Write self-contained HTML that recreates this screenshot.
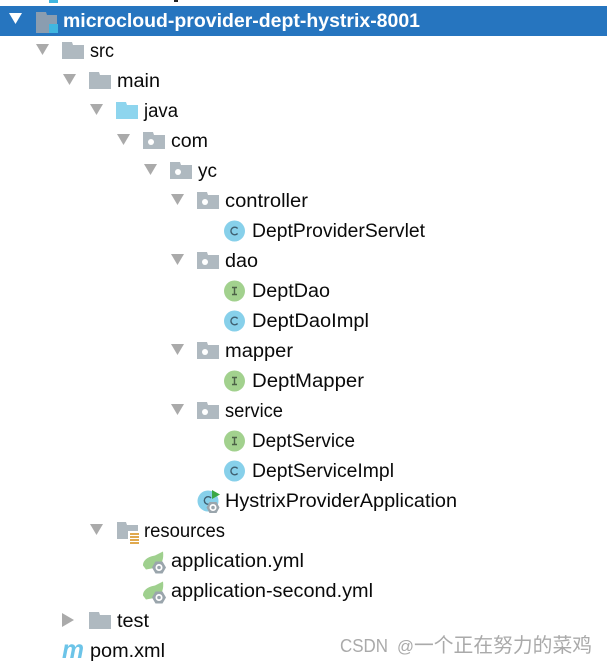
<!DOCTYPE html>
<html><head><meta charset="utf-8"><style>
html,body{margin:0;padding:0;background:#fff;width:607px;height:665px;overflow:hidden}
svg{display:block}
text{font-family:"Liberation Sans","Noto Sans CJK SC",sans-serif;font-size:19px;fill:#0a0a0a}
</style></head><body>
<svg width="607" height="665" viewBox="0 0 607 665" xmlns="http://www.w3.org/2000/svg">
<defs>
<path id="t" d="M0 0H13L6.500 11Z" fill="#aaaaaa"/>
<path id="f" d="M0 0H10L11 3H22V17H0Z" fill="#afb9c0"/>
<g id="p"><path d="M0 0H10L11 3H22V17H0Z" fill="#afb9c0"/><circle cx="8" cy="10" r="3" fill="#fff"/></g>
<g id="C"><circle cx="10.500" cy="10.500" r="10.500" fill="#87d0ea"/><path d="M13.600 8A3.800 3.800 0 1 0 13.600 13" fill="none" stroke="#3f5f70" stroke-width="1.400"/></g>
<g id="I"><circle cx="10.500" cy="10.500" r="10.500" fill="#a2d18e"/><path d="M8 7H13M10.500 7V14M8 14H13" fill="none" stroke="#4c6147" stroke-width="1.400"/></g>
<g id="s"><path d="M0 14C0 8 6 5 12 4L20 0C21 7 19 13 14 16L3 18Z" fill="#9fd08e"/><path d="M12.500 10H19.500L23 16L19.500 22H12.500L9 16Z" fill="#9aa5ac"/><circle cx="16" cy="16" r="3.500" fill="#fff"/><circle cx="16" cy="16" r="1.800" fill="#9aa5ac"/></g>
</defs>

<rect x="49" y="0" width="9" height="3" fill="#40b6e0"/>
<rect x="174" y="0" width="4" height="2" fill="#222"/>

<rect x="0" y="6" width="607" height="30" fill="#2675bf"/>
<path d="M9 13H22L15.500 24Z" fill="#fff"/>
<path d="M36 12H46L47 15H57V33H36Z" fill="#8a9db0"/>
<rect x="49" y="24" width="9" height="9" fill="#40b6e0"/>
<text x="63" y="27" textLength="357" lengthAdjust="spacingAndGlyphs" style="font-weight:bold;fill:#fff">microcloud-provider-dept-hystrix-8001</text>

<use href="#t" x="36" y="44"/>
<use href="#t" x="63" y="74"/>
<use href="#t" x="90" y="104"/>
<use href="#t" x="117" y="134"/>
<use href="#t" x="144" y="164"/>
<use href="#t" x="171" y="194"/>
<use href="#t" x="171" y="254"/>
<use href="#t" x="171" y="344"/>
<use href="#t" x="171" y="404"/>
<use href="#t" x="90" y="524"/>
<path d="M62 613L74 620L62 627Z" fill="#aaaaaa"/>

<use href="#f" x="62" y="42"/>
<use href="#f" x="89" y="72"/>
<path d="M116 102H126L127 105H138V119H116Z" fill="#8ed5ee"/>
<use href="#p" x="143" y="132"/>
<use href="#p" x="170" y="162"/>
<use href="#p" x="197" y="192"/>
<use href="#p" x="197" y="252"/>
<use href="#p" x="197" y="342"/>
<use href="#p" x="197" y="402"/>
<path d="M117 522H126L127 525H138V539H117Z" fill="#afb9c0"/>
<rect x="128" y="531" width="12" height="14" fill="#fff"/>
<g fill="#e0a94e"><rect x="130" y="533" width="9" height="2"/><rect x="130" y="536" width="9" height="2"/><rect x="130" y="539" width="9" height="2"/><rect x="130" y="542" width="9" height="2"/></g>
<use href="#f" x="89" y="612"/>

<use href="#C" x="224" y="220.500"/>
<use href="#I" x="224" y="280.500"/>
<use href="#C" x="224" y="310.500"/>
<use href="#I" x="224" y="370.500"/>
<use href="#I" x="224" y="430.500"/>
<use href="#C" x="224" y="460.500"/>

<circle cx="208" cy="501" r="10.500" fill="#87d0ea"/>
<path d="M211 498A3.800 3.800 0 1 0 211 503" fill="none" stroke="#3f5f70" stroke-width="1.400"/>
<path d="M212 490L220 494.500L212 499Z" fill="#3aa845"/>
<path d="M209.500 502H216.500L219.500 507.500L216.500 513H209.500L206.500 507.500Z" fill="#9aa5ac"/>
<circle cx="213" cy="507.500" r="3.500" fill="#fff"/><circle cx="213" cy="507.500" r="1.800" fill="#9aa5ac"/>

<use href="#s" x="143" y="551.500"/>
<use href="#s" x="143" y="581.500"/>

<text x="62" y="658" textLength="22" lengthAdjust="spacingAndGlyphs" style="font-size:26px;font-weight:bold;font-style:italic;fill:#6cc4e8">m</text>

<text x="90" y="57" textLength="24" lengthAdjust="spacingAndGlyphs">src</text>
<text x="117" y="87" textLength="43" lengthAdjust="spacingAndGlyphs">main</text>
<text x="144" y="117" textLength="34" lengthAdjust="spacingAndGlyphs">java</text>
<text x="171" y="147" textLength="37" lengthAdjust="spacingAndGlyphs">com</text>
<text x="198" y="177" textLength="19" lengthAdjust="spacingAndGlyphs">yc</text>
<text x="225" y="207" textLength="83" lengthAdjust="spacingAndGlyphs">controller</text>
<text x="252" y="237" textLength="173" lengthAdjust="spacingAndGlyphs">DeptProviderServlet</text>
<text x="225" y="267" textLength="33" lengthAdjust="spacingAndGlyphs">dao</text>
<text x="252" y="297" textLength="78" lengthAdjust="spacingAndGlyphs">DeptDao</text>
<text x="252" y="327" textLength="117" lengthAdjust="spacingAndGlyphs">DeptDaoImpl</text>
<text x="225" y="357" textLength="68" lengthAdjust="spacingAndGlyphs">mapper</text>
<text x="252" y="387" textLength="112" lengthAdjust="spacingAndGlyphs">DeptMapper</text>
<text x="225" y="417" textLength="58" lengthAdjust="spacingAndGlyphs">service</text>
<text x="252" y="447" textLength="103" lengthAdjust="spacingAndGlyphs">DeptService</text>
<text x="252" y="477" textLength="142" lengthAdjust="spacingAndGlyphs">DeptServiceImpl</text>
<text x="225" y="507" textLength="232" lengthAdjust="spacingAndGlyphs">HystrixProviderApplication</text>
<text x="144" y="537" textLength="81" lengthAdjust="spacingAndGlyphs">resources</text>
<text x="171" y="567" textLength="133" lengthAdjust="spacingAndGlyphs">application.yml</text>
<text x="171" y="597" textLength="202" lengthAdjust="spacingAndGlyphs">application-second.yml</text>
<text x="117" y="627" textLength="32" lengthAdjust="spacingAndGlyphs">test</text>
<text x="90" y="657" textLength="75" lengthAdjust="spacingAndGlyphs">pom.xml</text>

<text x="340" y="652" textLength="48" lengthAdjust="spacingAndGlyphs" style="font-size:18px;fill:#aaaaaa">CSDN</text>
<text x="397" y="652" textLength="17" lengthAdjust="spacingAndGlyphs" style="font-size:17px;fill:#aaaaaa">@</text>
<text x="414" y="652" textLength="178" lengthAdjust="spacingAndGlyphs" style="font-size:20px;fill:#aaaaaa">一个正在努力的菜鸡</text>
</svg>
</body></html>
